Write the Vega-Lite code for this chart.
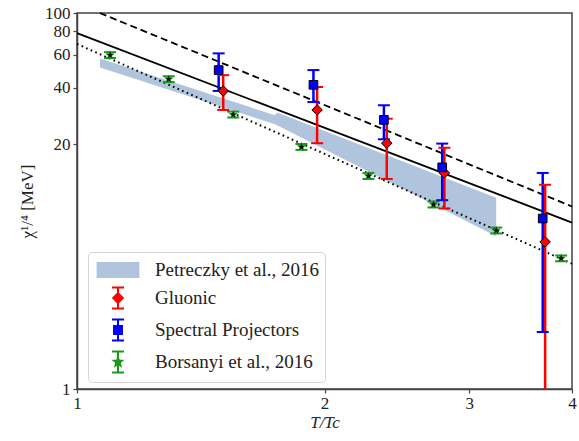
{
  "$schema": "https://vega.github.io/schema/vega-lite/v6.json",
  "width": 495,
  "height": 376,
  "autosize": {"type": "none"},
  "padding": {"left": 77, "top": 13, "right": 7, "bottom": 52},
  "datasets": {
    "points": [
      {"series": "Gluonic", "T": 1.506, "chi": 38.5, "lo": 30.5, "hi": 46.7},
      {"series": "Gluonic", "T": 1.959, "chi": 30.5, "lo": 20.3, "hi": 40.4},
      {"series": "Gluonic", "T": 2.381, "chi": 20.3, "lo": 13.1, "hi": 27.4},
      {"series": "Gluonic", "T": 2.798, "chi": 14.1, "lo": 9.12, "hi": 19.2},
      {"series": "Gluonic", "T": 3.71, "chi": 6.06, "lo": 1, "hi": 12.2},
      {"series": "Spectral Projectors", "T": 1.487, "chi": 49.7, "lo": 38.5, "hi": 61},
      {"series": "Spectral Projectors", "T": 1.939, "chi": 41.5, "lo": 33.6, "hi": 49.7},
      {"series": "Spectral Projectors", "T": 2.362, "chi": 27.0, "lo": 21.3, "hi": 32.3},
      {"series": "Spectral Projectors", "T": 2.781, "chi": 15.1, "lo": 10.1, "hi": 20.2},
      {"series": "Spectral Projectors", "T": 3.685, "chi": 8.07, "lo": 2.01, "hi": 14.1},
      {"series": "Borsanyi et al., 2016", "T": 1.097, "chi": 59.7, "lo": 57.6, "hi": 61.9},
      {"series": "Borsanyi et al., 2016", "T": 1.293, "chi": 44.5, "lo": 42.9, "hi": 46.1},
      {"series": "Borsanyi et al., 2016", "T": 1.549, "chi": 28.8, "lo": 27.8, "hi": 29.9},
      {"series": "Borsanyi et al., 2016", "T": 1.875, "chi": 19.4, "lo": 18.7, "hi": 20.1},
      {"series": "Borsanyi et al., 2016", "T": 2.262, "chi": 13.6, "lo": 13.1, "hi": 14.1},
      {"series": "Borsanyi et al., 2016", "T": 2.714, "chi": 9.58, "lo": 9.24, "hi": 9.93},
      {"series": "Borsanyi et al., 2016", "T": 3.235, "chi": 6.96, "lo": 6.72, "hi": 7.22},
      {"series": "Borsanyi et al., 2016", "T": 3.88, "chi": 4.95, "lo": 4.78, "hi": 5.13}
    ],
    "band": [
      {"T": 1.0665, "lo": 51.3, "hi": 57.3},
      {"T": 1.741, "lo": 25.6, "hi": 28.6},
      {"T": 1.751, "lo": 25.3, "hi": 29.6},
      {"T": 3.235, "lo": 6.49, "hi": 10.4}
    ],
    "lines": [
      {"style": "solid", "T": 1, "chi": 78.2},
      {"style": "solid", "T": 4, "chi": 7.68},
      {"style": "dashed", "T": 1.066, "chi": 100},
      {"style": "dashed", "T": 4, "chi": 9.35},
      {"style": "dotted", "T": 1, "chi": 68.4},
      {"style": "dotted", "T": 4, "chi": 4.64}
    ]
  },
  "encoding": {
    "x": {"field": "T", "type": "quantitative", "scale": {"type": "log", "domain": [1, 4], "nice": false},
      "axis": {"values": [1, 2, 3, 4], "format": "d", "title": "T/Tc", "titleFontStyle": "italic", "titlePadding": 3, "labelFlush": false, "labelOverlap": false, "labelPadding": 2}}
  },
  "layer": [
    {
      "data": {"name": "band"},
      "mark": {"type": "area", "color": "#b0c4de"},
      "encoding": {
        "y": {"field": "hi", "type": "quantitative", "scale": {"type": "log", "domain": [1, 100], "nice": false},
          "axis": {"values": [1, 20, 40, 60, 80, 100], "format": "d", "title": "χ¹/⁴ [MeV]", "titlePadding": 8, "labelOverlap": false, "labelPadding": 3}},
        "y2": {"field": "lo"}
      }
    },
    {
      "data": {"name": "lines"},
      "transform": [{"filter": "datum.style === 'solid'"}],
      "mark": {"type": "line", "stroke": "black", "strokeWidth": 1.8},
      "encoding": {"y": {"field": "chi", "type": "quantitative"}}
    },
    {
      "data": {"name": "lines"},
      "transform": [{"filter": "datum.style === 'dashed'"}],
      "mark": {"type": "line", "stroke": "black", "strokeWidth": 1.8, "strokeDash": [7, 4]},
      "encoding": {"y": {"field": "chi", "type": "quantitative"}}
    },
    {
      "data": {"name": "lines"},
      "transform": [{"filter": "datum.style === 'dotted'"}],
      "mark": {"type": "line", "stroke": "black", "strokeWidth": 2, "strokeDash": [1.6, 3.4]},
      "encoding": {"y": {"field": "chi", "type": "quantitative"}}
    },
    {
      "data": {"name": "points"},
      "mark": {"type": "rule", "strokeWidth": 2.5},
      "encoding": {
        "y": {"field": "lo", "type": "quantitative"},
        "y2": {"field": "hi"},
        "color": {"field": "series", "type": "nominal", "legend": null,
          "scale": {"domain": ["Gluonic", "Spectral Projectors", "Borsanyi et al., 2016"], "range": ["#ff0000", "#0000ff", "#1a9a1a"]}}
      }
    },
    {
      "data": {"name": "points"},
      "mark": {"type": "tick", "orient": "horizontal", "size": 12, "thickness": 2, "opacity": 1},
      "encoding": {
        "y": {"field": "hi", "type": "quantitative"},
        "color": {"field": "series", "type": "nominal", "legend": null}
      }
    },
    {
      "data": {"name": "points"},
      "transform": [{"filter": "datum.lo > 1"}],
      "mark": {"type": "tick", "orient": "horizontal", "size": 12, "thickness": 2, "opacity": 1},
      "encoding": {
        "y": {"field": "lo", "type": "quantitative"},
        "color": {"field": "series", "type": "nominal", "legend": null}
      }
    },
    {
      "data": {"name": "points"},
      "transform": [{"filter": "datum.series === 'Gluonic'"}],
      "mark": {"type": "point", "shape": "diamond", "filled": true, "fill": "#ff0000", "stroke": "black", "strokeWidth": 1, "size": 110, "opacity": 1},
      "encoding": {"y": {"field": "chi", "type": "quantitative"}}
    },
    {
      "data": {"name": "points"},
      "transform": [{"filter": "datum.series === 'Spectral Projectors'"}],
      "mark": {"type": "point", "shape": "square", "filled": true, "fill": "#0000ff", "stroke": "black", "strokeWidth": 1, "size": 75, "opacity": 1},
      "encoding": {"y": {"field": "chi", "type": "quantitative"}}
    },
    {
      "data": {"name": "points"},
      "transform": [{"filter": "datum.series === 'Borsanyi et al., 2016'"}],
      "mark": {"type": "point", "shape": "M0,-1L0.235,-0.324L0.951,-0.309L0.38,0.124L0.588,0.809L0,0.4L-0.588,0.809L-0.38,0.124L-0.951,-0.309L-0.235,-0.324Z", "filled": true, "fill": "black", "stroke": "#1a9a1a", "strokeWidth": 0.6, "size": 70, "opacity": 1},
      "encoding": {"y": {"field": "chi", "type": "quantitative"}}
    },
    {
      "data": {"name": "points"},
      "mark": {"type": "point", "filled": true, "opacity": 0, "size": 576},
      "encoding": {
        "y": {"field": "chi", "type": "quantitative"},
        "fill": {"field": "series", "type": "nominal",
          "scale": {"domain": ["Petreczky et al., 2016", "Gluonic", "Spectral Projectors", "Borsanyi et al., 2016"], "range": ["#b0c4de", "#ff0000", "#0000ff", "black"]},
          "legend": {"title": null, "orient": "none", "legendX": 11, "legendY": 239}},
        "stroke": {"field": "series", "type": "nominal",
          "scale": {"domain": ["Petreczky et al., 2016", "Gluonic", "Spectral Projectors", "Borsanyi et al., 2016"], "range": ["#b0c4de", "#ff0000", "#0000ff", "#1a9a1a"]},
          "legend": {"title": null, "orient": "none", "legendX": 11, "legendY": 239}},
        "shape": {"field": "series", "type": "nominal",
          "scale": {"domain": ["Petreczky et al., 2016", "Gluonic", "Spectral Projectors", "Borsanyi et al., 2016"],
            "range": [
              "M-1.7,-0.58H1.7V0.58H-1.7Z",
              "M0,-0.875V0.875M-0.5,-0.875H0.5M-0.5,0.875H0.5M0,-0.4L0.4,0L0,0.4L-0.4,0Z",
              "M0,-0.875V0.875M-0.5,-0.875H0.5M-0.5,0.875H0.5M-0.33,-0.33H0.33V0.33H-0.33Z",
              "M0,-0.875V0.875M-0.5,-0.875H0.5M-0.5,0.875H0.5M0,-0.35L0.088,-0.121L0.333,-0.108L0.143,0.046L0.206,0.283L0,0.15L-0.206,0.283L-0.143,0.046L-0.333,-0.108L-0.088,-0.121Z"
            ]},
          "legend": {"title": null, "orient": "none", "legendX": 11, "legendY": 239}}
      }
    }
  ],
  "config": {
    "font": "Liberation Serif",
    "view": {"stroke": "#444", "strokeWidth": 1.5},
    "axis": {
      "grid": false, "labelFont": "Liberation Serif", "labelFontSize": 17, "labelColor": "#222",
      "titleFont": "Liberation Serif", "titleFontSize": 17, "titleFontWeight": "normal", "titleColor": "#222",
      "domainColor": "#444", "domainWidth": 1.5, "tickColor": "#444", "tickSize": 4, "tickWidth": 1.2
    },
    "legend": {
      "padding": 5, "symbolOffset": 12, "labelOffset": 24, "rowPadding": 2, "symbolSize": 576,
      "labelFont": "Liberation Serif", "labelFontSize": 19, "labelColor": "#222", "labelLimit": 300,
      "strokeColor": "#d3d3d3", "fillColor": "#ffffff", "cornerRadius": 4,
      "symbolOpacity": 1, "symbolStrokeWidth": 2
    }
  }
}
